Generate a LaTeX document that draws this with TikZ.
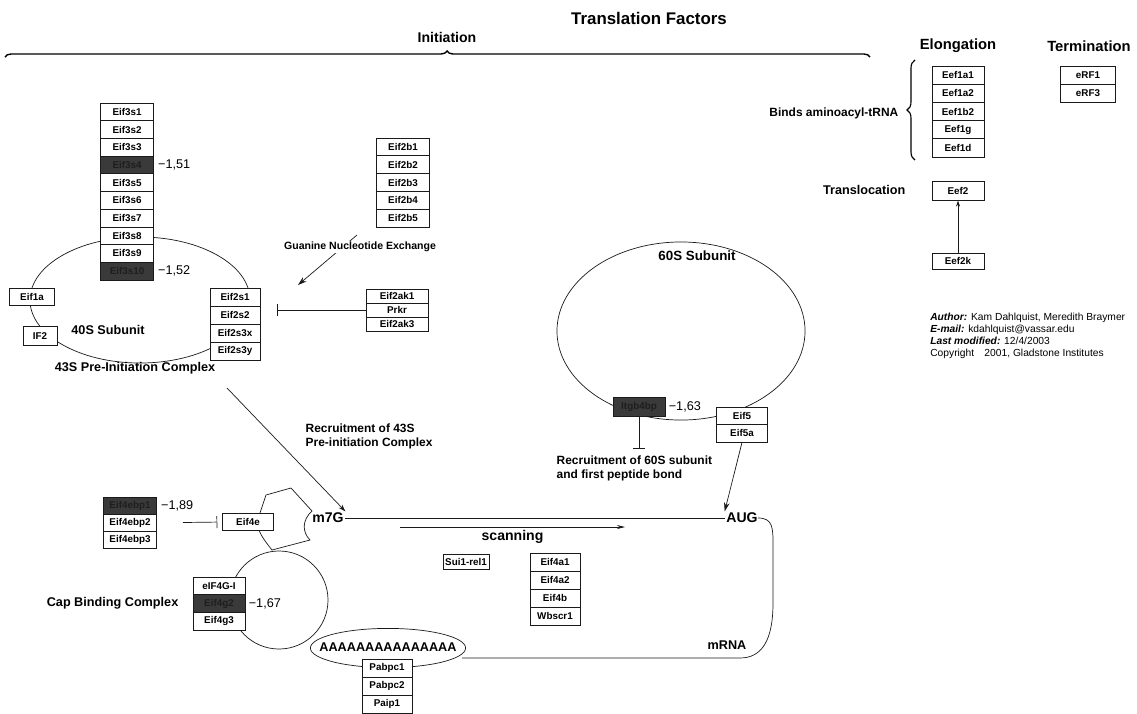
\documentclass[tikz,border=0pt]{standalone}
\usepackage{fontspec}
\setmainfont{Liberation Sans}
\usepackage{xcolor}
\usepackage{tikz}
\usetikzlibrary{arrows.meta, positioning, decorations.pathreplacing}
\definecolor{TFInk}{HTML}{1A1A1A}
\definecolor{TFDark}{HTML}{3A3A3A}
\definecolor{TFDarkText}{HTML}{1E1E1E}

\tikzset{
  gene/.style={draw=TFInk, fill=white, line width=0.5pt, inner sep=0pt,
    minimum width=1.3cm, minimum height=0.44cm, font=\fontsize{7}{8}\selectfont\bfseries},
  dkgene/.style={gene, fill=TFDark, text=TFDarkText},
  lbl/.style={inner sep=1pt, font=\fontsize{8.5}{10}\selectfont\bfseries},
  val/.style={inner sep=0pt, font=\fontsize{9}{10}\selectfont},
  arr/.style={draw=TFInk, line width=0.5pt, -{Stealth[length=0.22cm, width=0.14cm]}},
  inhib/.style={draw=TFInk, line width=0.5pt, -{Bar[width=0.3cm]}},
  body/.style={draw=TFInk, line width=0.5pt}
}

\begin{document}
\begin{tikzpicture}[x=0.025cm, y=-0.025cm]
  \useasboundingbox (0,0) rectangle (1137,713);

  \node[font=\fontsize{12}{14}\selectfont\bfseries] (title) at (649,18) {Translation Factors};
  \node[font=\fontsize{10}{12}\selectfont\bfseries] (init) at (447,37) {Initiation};
  \node[font=\fontsize{10.5}{12}\selectfont\bfseries] (elong) at (958,46) {Elongation};
  \node[font=\fontsize{10.5}{12}\selectfont\bfseries] (term) at (1089,46) {Termination};
  \draw[decorate, decoration={brace, amplitude=0.15cm, aspect=0.511}, line width=1pt] (5,57) -- (870,57);
  \draw[decorate, decoration={brace, amplitude=0.2cm}, line width=0.8pt] (915,160) -- (915,60);

  % 40S subunit and 43S complex
  \draw[body] (140,300) ellipse [x radius=2.75cm, y radius=1.575cm];
  \foreach \g/\st [count=\i] in {Eif3s1/gene, Eif3s2/gene, Eif3s3/gene, Eif3s4/dkgene, Eif3s5/gene,
      Eif3s6/gene, Eif3s7/gene, Eif3s8/gene, Eif3s9/gene, Eif3s10/dkgene}
    \node[\st, minimum width=1.33cm, minimum height=0.443cm] (eif3-\i) at (127,{103+17.7*\i-8.85}) {\g};
  \node[val, right=0.1cm of eif3-4] (v151) {−1,51};
  \node[val, right=0.1cm of eif3-10] (v152) {−1,52};
  \node[gene, minimum width=1.13cm, minimum height=0.42cm] (eif1a) at (32,297) {Eif1a};
  \node[gene, minimum width=0.85cm, minimum height=0.46cm] (if2) at (40,336) {IF2};
  \node[lbl, font=\fontsize{9}{10}\selectfont\bfseries] (sub40) at (108,330) {40S Subunit};
  \node[lbl, font=\fontsize{9}{10}\selectfont\bfseries] (pic43) at (135,368) {43S Pre-Initiation Complex};
  \foreach \g [count=\i] in {Eif2s1, Eif2s2, Eif2s3x, Eif2s3y}
    \node[gene, minimum width=1.25cm, minimum height=0.45cm] (eif2s-\i) at (235,{288+18*\i-9}) {\g};

  \foreach \g [count=\i] in {Eif2b1, Eif2b2, Eif2b3, Eif2b4, Eif2b5}
    \node[gene, minimum width=1.33cm, minimum height=0.445cm] (eif2b-\i) at (403,{138+17.8*\i-8.9}) {\g};
  \foreach \g [count=\i] in {Eif2ak1, Prkr, Eif2ak3}
    \node[gene, minimum width=1.55cm, minimum height=0.35cm] (eif2ak-\i) at (397,{289+14*\i-7}) {\g};
  \coordinate (gne-a) at (357,235);
  \coordinate (gne-b) at (298,285);
  \draw[arr] (gne-a) -- (gne-b);
  \node[lbl, fill=white, font=\fontsize{7.5}{9}\selectfont\bfseries] (gne) at (360,247) {Guanine Nucleotide Exchange};
  \draw[inhib, shorten >=0.42cm] (eif2ak-2.west) -- (eif2ak-2.west -| eif2s-2.east);

  % 60S subunit
  \draw[body] (681,331) ellipse [x radius=3.1cm, y radius=2.225cm];
  \node[lbl, font=\fontsize{9.5}{11}\selectfont\bfseries] (sub60) at (697,256) {60S Subunit};
  \node[dkgene, minimum width=1.3cm, minimum height=0.47cm] (itgb) at (639,407) {Itgb4bp};
  \node[val, right=0.08cm of itgb] (v163) {−1,63};
  \foreach \g [count=\i] in {Eif5, Eif5a}
    \node[gene, minimum width=1.28cm, minimum height=0.44cm] (eif5-\i) at (742,{407+17.5*\i-8.75}) {\g};
  \coordinate (bar60) at (639,449);
  \draw[inhib] (itgb.south) -- (bar60);
  \node[lbl, align=left, anchor=north west] (rec60) at (555,454) {Recruitment of 60S subunit\\and first peptide bond};

  % elongation and termination
  \node[lbl, anchor=east] (aatrna) at (900,113) {Binds aminoacyl-tRNA};
  \foreach \g [count=\i] in {Eef1a1, Eef1a2, Eef1b2, Eef1g, Eef1d}
    \node[gene, minimum width=1.3cm, minimum height=0.455cm] (eef1-\i) at (958,{66+18.2*\i-9.1}) {\g};
  \foreach \g [count=\i] in {eRF1, eRF3}
    \node[gene, minimum width=1.38cm, minimum height=0.45cm] (erf-\i) at (1088,{66+18*\i-9}) {\g};
  \node[lbl, anchor=east, font=\fontsize{9}{10}\selectfont\bfseries] (transloc) at (907,190) {Translocation};
  \node[gene, minimum width=1.3cm, minimum height=0.46cm] (eef2) at (958,191) {Eef2};
  \node[gene, minimum width=1.3cm, minimum height=0.4cm] (eef2k) at (958,261) {Eef2k};
  \draw[arr, -{Stealth[length=0.15cm, width=0.1cm]}] (eef2k.north) -- (eef2.south);

  \node[anchor=north west, align=left, inner sep=0pt, font=\fontsize{7.3}{8.5}\selectfont] (credit) at (930,313)
    {\textbf{\textit{Author:}} Kam Dahlquist, Meredith Braymer\\
     \textbf{\textit{E-mail:}} kdahlquist@vassar.edu\\
     \textbf{\textit{Last modified:}} 12/4/2003\\
     Copyright\quad 2001, Gladstone Institutes};

  % mRNA, cap and poly-A tail
  \node[lbl, align=left, anchor=west] (rec43) at (304,436) {Recruitment of 43S\\Pre-initiation Complex};
  \draw[body, fill=white] (266,495) -- (291,488) -- (312,511) .. controls (302,520) and (302,532) .. (310,540)
    -- (272,550) .. controls (264,540) and (258,532) .. (257,522) -- cycle;
  \draw[body] (279,600) circle [radius=1.225cm];
  \node[lbl, font=\fontsize{10}{12}\selectfont\bfseries] (m7g) at (328,518) {m7G};
  \node[lbl, font=\fontsize{10}{12}\selectfont\bfseries] (aug) at (742,518) {AUG};
  \draw[body] (m7g.east) -- (aug.west);
  \draw[body] (aug.east) -- (758,518) .. controls (773,518) and (773,528) .. (773,545) -- (773,603)
    .. controls (773,640) and (762,658) .. (740,658) -- (462,658);
  \node[lbl, font=\fontsize{9}{10}\selectfont\bfseries] (mrna) at (727,645) {mRNA};
  \coordinate (rec43-a) at (227,388);
  \draw[arr, -{Stealth[length=0.18cm, width=0.12cm]}] (rec43-a) -- (m7g.north east);
  \draw[arr] (eif5-2.south) -- (aug.north west);

  \foreach \g/\st [count=\i] in {Eif4ebp1/dkgene, Eif4ebp2/gene, Eif4ebp3/gene}
    \node[\st, minimum width=1.33cm, minimum height=0.425cm] (ebp-\i) at (130,{497+17*\i-8.5}) {\g};
  \node[val, right=0.1cm of ebp-1] (v189) {−1,89};
  \node[gene, minimum width=1.28cm, minimum height=0.42cm] (eif4e) at (248,522) {Eif4e};
  \draw[inhib, shorten >=0.12cm] ([xshift=0.65cm]ebp-2.east) -- (eif4e.west);

  \foreach \g/\st [count=\i] in {eIF4G-I/gene, Eif4g2/dkgene, Eif4g3/gene}
    \node[\st, minimum width=1.3cm, minimum height=0.443cm] (eif4g-\i) at (219,{577+17.7*\i-8.85}) {\g};
  \node[val, right=0.08cm of eif4g-2] (v167) {−1,67};
  \node[lbl, anchor=east, font=\fontsize{9}{10}\selectfont\bfseries] (cbc) at (180,603) {Cap Binding Complex};

  \coordinate (scan-a) at (400,527);
  \coordinate (scan-b) at (625,527);
  \draw[arr, -{Stealth[length=0.2cm, width=0.1cm]}] (scan-a) -- node[lbl, below=1pt, font=\fontsize{10}{12}\selectfont\bfseries] (scan) {scanning} (scan-b);
  \node[gene, minimum width=1.15cm, minimum height=0.38cm] (sui1) at (466,562) {Sui1-rel1};
  \foreach \g [count=\i] in {Eif4a1, Eif4a2, Eif4b, Wbscr1}
    \node[gene, minimum width=1.25cm, minimum height=0.45cm] (eif4a-\i) at (555,{553+18*\i-9}) {\g};

  \draw[body] (388,648) ellipse [x radius=1.94cm, y radius=0.49cm];
  \node[lbl, font=\fontsize{9}{10}\selectfont\bfseries] (polya) at (388,647) {AAAAAAAAAAAAAAA};
  \foreach \g [count=\i] in {Pabpc1, Pabpc2, Paip1}
    \node[gene, minimum width=1.25cm, minimum height=0.45cm] (pabp-\i) at (387,{659+18*\i-9}) {\g};
\end{tikzpicture}
\end{document}
